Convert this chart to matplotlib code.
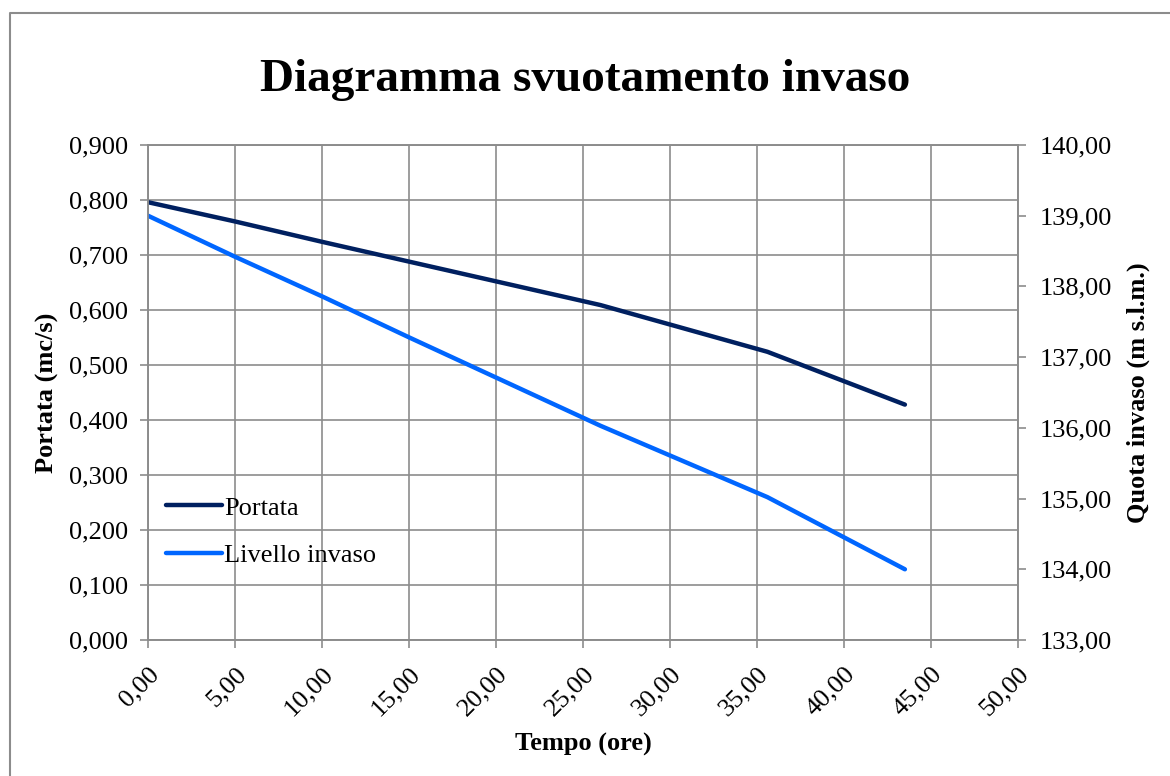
import matplotlib
matplotlib.use("Agg")
import matplotlib.pyplot as plt
from matplotlib.lines import Line2D
from matplotlib.ticker import FuncFormatter, MultipleLocator

plt.rcParams['font.family'] = ['Liberation Serif', 'DejaVu Serif']

# Tempo (ore)
tempo = [0.0, 5.0, 10.0, 15.0, 26.0, 35.6, 43.5]
# Portata (mc/s)
portata = [0.796, 0.761, 0.724, 0.688, 0.609, 0.524, 0.428]
# Livello invaso (m s.l.m.)
livello = [139.00, 138.42, 137.86, 137.28, 136.03, 135.02, 134.00]

grid_col = '#8c8c8c'

fig = plt.figure(figsize=(11.7, 7.76), dpi=100)
# chart area border (left and top visible, the rest runs off the picture)
fig.lines.append(Line2D([10 / 1170, 10 / 1170, 1.0], [0.0, 1 - 13 / 776, 1 - 13 / 776],
                        transform=fig.transFigure, color=grid_col, lw=1.5))

ax = fig.add_axes([148 / 1170, 1 - 640 / 776, 870 / 1170, 495 / 776])
ax2 = ax.twinx()

l1, = ax.plot(tempo, portata, color='#002060', lw=3.2, solid_capstyle='round')
l2, = ax2.plot(tempo, livello, color='#0066ff', lw=3.2, solid_capstyle='round')

ax.set_xlim(0, 50)
ax.set_ylim(0, 0.9)
ax2.set_ylim(133, 140)
ax.xaxis.set_major_locator(MultipleLocator(5))
ax.yaxis.set_major_locator(MultipleLocator(0.1))
ax2.yaxis.set_major_locator(MultipleLocator(1))

ax.xaxis.set_major_formatter(FuncFormatter(lambda v, p: f"{v:.2f}".replace('.', ',')))
ax.yaxis.set_major_formatter(FuncFormatter(lambda v, p: f"{v:.3f}".replace('.', ',')))
ax2.yaxis.set_major_formatter(FuncFormatter(lambda v, p: f"{v:.2f}".replace('.', ',')))

ax.grid(True, color=grid_col, lw=1.2)
ax.set_axisbelow(True)
for a in (ax, ax2):
    for s in a.spines.values():
        s.set_color(grid_col)
        s.set_linewidth(1.2)
    a.tick_params(colors=grid_col, labelcolor='black', labelsize=19,
                  length=5.5, width=1.2, direction='out')
ax.tick_params(axis='y', pad=9)
ax2.tick_params(axis='y', pad=10)
ax.tick_params(axis='x', pad=11)

for lab in ax.get_xticklabels():
    lab.set_rotation(45)
    lab.set_ha('right')
    lab.set_rotation_mode('anchor')

ax.set_xlabel('Tempo (ore)', fontsize=19, fontweight='bold')
ax.set_ylabel('Portata (mc/s)', fontsize=19, fontweight='bold')
ax2.set_ylabel('Quota invaso (m s.l.m.)', fontsize=19, fontweight='bold')
ax.xaxis.set_label_coords(0.5, -0.212)
ax.yaxis.set_label_coords(-0.115, 0.5)
ax2.yaxis.set_label_coords(1.138, 0.5)
ax.xaxis.label.set_va('center')
ax.yaxis.label.set_va('center')
ax2.yaxis.label.set_va('center')

fig.text(0.5, 1 - 80 / 776, 'Diagramma svuotamento invaso', ha='center', va='center',
         fontsize=34, fontweight='bold')

ax.legend([l1, l2], ['Portata', 'Livello invaso'], loc='upper left',
          bbox_to_anchor=(0.009, 0.312), frameon=False, fontsize=19,
          handlelength=2.1, handletextpad=0.1, labelspacing=0.9, borderaxespad=0)

fig.savefig('out.png', dpi=100)
